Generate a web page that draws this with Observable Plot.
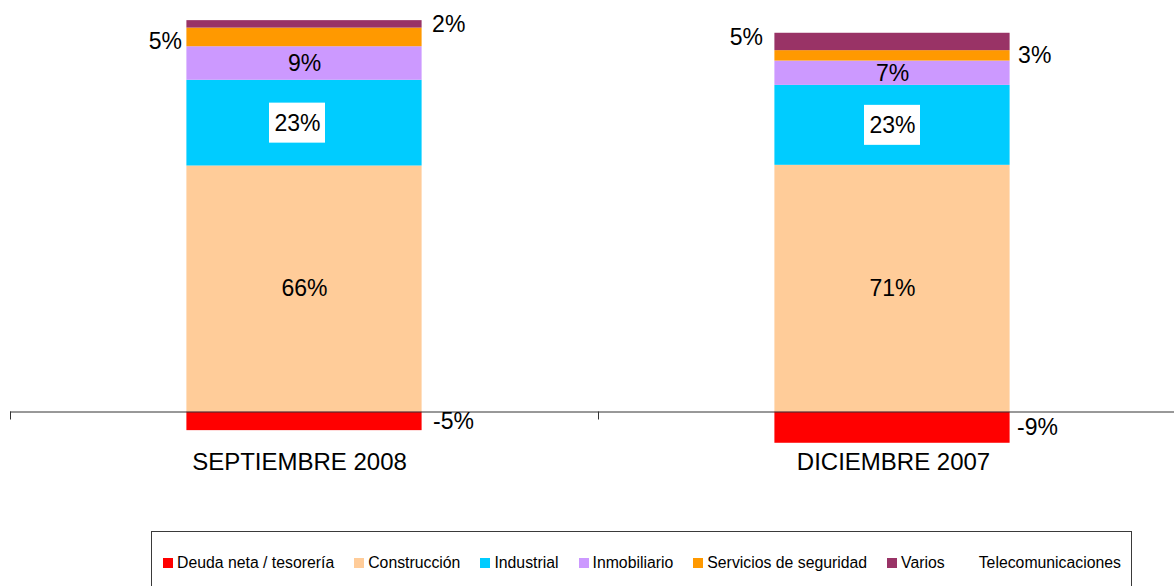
<!DOCTYPE html>
<html>
<head>
<meta charset="utf-8">
<script src="https://cdn.jsdelivr.net/npm/d3@7"></script>
<script src="https://cdn.jsdelivr.net/npm/@observablehq/plot@0.6"></script>
<style>
  html, body { margin: 0; padding: 0; background: #fff; }
  body { width: 1174px; height: 586px; overflow: hidden; position: relative; font-family: "Liberation Sans", Arial, sans-serif; }
  #legend {
    position: absolute; left: 151px; top: 531px; width: 981px; height: 64px;
    border: 1px solid #3a3a3a; box-sizing: border-box;
    display: flex; align-items: center; padding-left: 11px; gap: 20px;
    font-size: 15.8px; color: #000;
  }
  #legend .item { display: flex; align-items: center; white-space: nowrap; }
  #legend .sw { width: 10px; height: 10px; margin-right: 4px; display: inline-block; }
</style>
</head>
<body>
<div id="chart"></div>
<div id="legend"></div>
<script>
// ---- data ----
const categories = ["SEPTIEMBRE 2008", "DICIEMBRE 2007"];
const series = ["Deuda neta / tesorería", "Construcción", "Industrial", "Inmobiliario", "Servicios de seguridad", "Varios", "Telecomunicaciones"];
const sep2008 = [-5, 66, 23, 9, 5, 2, 0];
const dic2007 = [-9, 71, 23, 7, 3, 5, 0];
const colors = ["#ff0000", "#ffcc99", "#00ccff", "#cc99ff", "#ff9900", "#993366", "none"];

// ---- label placement (style config) ----
const placement = {
  "SEPTIEMBRE 2008": ["right", "center", "box", "center", "left", "right", "none"],
  "DICIEMBRE 2007":  ["right", "center", "box", "center", "right", "left", "none"]
};
const nudges = {
  "SEPTIEMBRE 2008|Deuda neta / tesorería": {dx: 11},
  "SEPTIEMBRE 2008|Industrial": {dx: -7},
  "SEPTIEMBRE 2008|Servicios de seguridad": {dx: -5, dy: 4},
  "SEPTIEMBRE 2008|Varios": {dx: 10},
  "DICIEMBRE 2007|Deuda neta / tesorería": {dx: 7},
  "DICIEMBRE 2007|Servicios de seguridad": {dx: 8},
  "DICIEMBRE 2007|Varios": {dx: -12, dy: -4}
};
const categoryNudge = {"SEPTIEMBRE 2008": -5, "DICIEMBRE 2007": 1};

// ---- build table (100% stacked over absolute sum) ----
const valuesBy = {"SEPTIEMBRE 2008": sep2008, "DICIEMBRE 2007": dic2007};
const table = [];
categories.forEach((c, i) => {
  const vals = valuesBy[c];
  const total = d3.sum(vals, Math.abs);
  let pos = 0, neg = 0;
  vals.forEach((v, k) => {
    const s = v / total;
    let y1, y2;
    if (s >= 0) { y1 = pos; pos += s; y2 = pos; } else { y1 = neg; neg += s; y2 = neg; }
    table.push({i, category: c, serie: series[k], value: v, y1, y2, ym: (y1 + y2) / 2, place: placement[c][k]});
  });
});

const font = "Liberation Sans, Arial, sans-serif";
const labelMarks = [];
table.filter(d => d.value !== 0 && d.place !== "none").forEach(d => {
  const n = nudges[d.category + "|" + d.serie] || {};
  const lx = d.place === "left" ? d.i + 0.3 : d.place === "right" ? d.i + 0.7 : d.i + 0.5;
  const anchor = d.place === "left" ? "end" : d.place === "right" ? "start" : "middle";
  const row = [{...d, lx}];
  if (d.place === "box") {
    labelMarks.push(Plot.rect(row, {
      x1: "lx", x2: "lx", y1: "ym", y2: "ym",
      insetLeft: -28, insetRight: -28, insetTop: -20, insetBottom: -20,
      fill: "white", dx: n.dx || 0, dy: n.dy || 0
    }));
  }
  labelMarks.push(Plot.text(row, {
    x: "lx", y: "ym", text: r => `${r.value}%`,
    textAnchor: anchor, dx: n.dx || 0, dy: n.dy || 0,
    fontSize: 23, fill: "black", fontFamily: font
  }));
});

const catMarks = categories.map((c, i) => Plot.axisX({
  ticks: [i + 0.5],
  tickFormat: () => c,
  tickSize: 0, tickPadding: 41, fontSize: 24, fill: "black", fontFamily: font,
  dx: categoryNudge[c], label: null
}));

const chart = Plot.plot({
  width: 1174,
  height: 520,
  marginLeft: 10,
  marginRight: -12,
  marginTop: 1.5,
  marginBottom: 108.5,
  x: {domain: [0, categories.length], label: null},
  y: {domain: [0, 1], axis: null, label: null},
  color: {domain: series, range: colors},
  style: {fontFamily: font, background: "white", color: "black"},
  marks: [
    Plot.rect(table.filter(d => d.value !== 0), {
      x1: d => d.i + 0.3, x2: d => d.i + 0.7, y1: "y1", y2: "y2", fill: "serie"
    }),
    Plot.ruleY([0], {stroke: "#333"}),
    Plot.axisX({ticks: d3.range(categories.length + 1), tickSize: 8, tickFormat: () => "", stroke: "#333", label: null}),
    ...catMarks,
    ...labelMarks
  ]
});
document.getElementById("chart").appendChild(chart);

// ---- legend ----
const legend = document.getElementById("legend");
series.forEach((s, k) => {
  const item = document.createElement("span");
  item.className = "item";
  const sw = document.createElement("span");
  sw.className = "sw";
  sw.style.background = colors[k] === "none" ? "transparent" : colors[k];
  item.appendChild(sw);
  item.appendChild(document.createTextNode(s));
  legend.appendChild(item);
});
</script>
</body>
</html>
